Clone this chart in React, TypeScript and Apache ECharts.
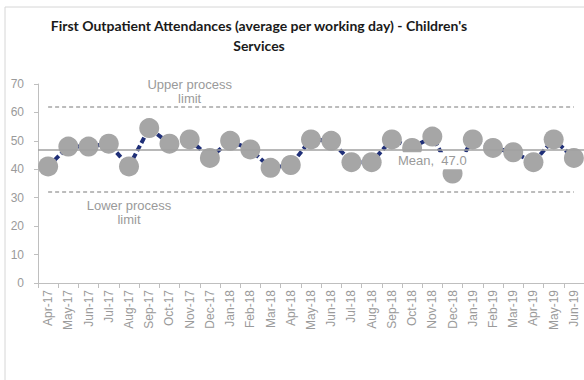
import React, { useEffect, useRef } from "react";
import * as echarts from "echarts";

const months = [
  "Apr-17", "May-17", "Jun-17", "Jul-17", "Aug-17", "Sep-17", "Oct-17", "Nov-17", "Dec-17",
  "Jan-18", "Feb-18", "Mar-18", "Apr-18", "May-18", "Jun-18", "Jul-18", "Aug-18", "Sep-18",
  "Oct-18", "Nov-18", "Dec-18", "Jan-19", "Feb-19", "Mar-19", "Apr-19", "May-19", "Jun-19",
];
const attendances = [
  41, 48, 48, 49, 41, 54.5, 49, 50.5, 44, 50, 47, 40.5,
  41.5, 50.5, 50, 42.5, 42.5, 50.5, 47.5, 51.5, 38.5, 50.5, 47.5, 46,
  42.5, 50.5, 44,
];
const MEAN = 47.0;
const UPPER_LIMIT = 62;
const LOWER_LIMIT = 32;
const yTicks = { min: 0, max: 70, interval: 10 };

const TITLE = "First Outpatient Attendances (average per working day) - Children's\nServices";

export default function App() {
  const ref = useRef<HTMLDivElement>(null);
  useEffect(() => {
    if (!ref.current) return;
    const chart = echarts.init(ref.current, null, { renderer: "svg" });
    const gray = "#9a9a9a";
    const last = months.length - 1;
    chart.setOption({
      animation: false,
      backgroundColor: "#ffffff",
      textStyle: { fontFamily: "Liberation Sans, Arial, sans-serif" },
      graphic: [
        {
          type: "rect",
          shape: { x: 5, y: 7, width: 620, height: 420 },
          style: { fill: "none", stroke: "#d6d6d6", lineWidth: 1 },
          silent: true,
          z: 0,
        },
        {
          type: "text",
          x: 259,
          y: 15,
          style: {
            text: TITLE,
            textAlign: "center",
            fontFamily: "Lato, sans-serif",
            fontWeight: "bold",
            fontSize: 14,
            lineHeight: 20,
            fill: "#1a1a1a",
          },
          z: 10,
        },
      ],
      grid: { left: 38, top: 84, width: 547, height: 199 },
      xAxis: {
        type: "category",
        data: months,
        boundaryGap: true,
        axisLine: { lineStyle: { color: "#bfbfbf" } },
        axisTick: { show: true, length: 5, interval: 0, lineStyle: { color: "#bfbfbf" } },
        axisLabel: { rotate: 90, interval: 0, color: gray, fontSize: 12, margin: 7 },
        splitLine: { show: false },
      },
      yAxis: {
        type: "value",
        min: yTicks.min,
        max: yTicks.max,
        interval: yTicks.interval,
        axisLine: { show: true, lineStyle: { color: "#bfbfbf" } },
        axisTick: { show: true, length: 4, lineStyle: { color: "#bfbfbf" } },
        axisLabel: { color: gray, fontSize: 12, margin: 14 },
        splitLine: { show: false },
      },
      series: [
        {
          name: "limits",
          type: "line",
          data: [],
          z: 1,
          silent: true,
          markLine: {
            silent: true,
            symbol: "none",
            label: { show: false },
            data: [
              [
                { coord: [0, UPPER_LIMIT], lineStyle: { type: [4, 3], color: "#a6a6a6", width: 1.5 } },
                { coord: [last, UPPER_LIMIT] },
              ],
              [
                { coord: [0, LOWER_LIMIT], lineStyle: { type: [4, 3], color: "#a6a6a6", width: 1.5 } },
                { coord: [last, LOWER_LIMIT] },
              ],
              { yAxis: MEAN, lineStyle: { type: "solid", color: "#a0a0a0", width: 1.5 } },
            ],
          },
          markPoint: {
            silent: true,
            symbol: "circle",
            symbolSize: 0,
            data: [
              {
                coord: [7.2, 67.5],
                label: {
                  show: true,
                  formatter: "Upper process\nlimit",
                  color: gray,
                  fontSize: 13,
                  lineHeight: 14,
                  align: "center",
                  verticalAlign: "middle",
                  position: "inside",
                },
              },
              {
                coord: [3.6, 24.8],
                label: {
                  show: true,
                  formatter: "Lower process\nlimit",
                  color: gray,
                  fontSize: 13,
                  lineHeight: 14,
                  align: "center",
                  verticalAlign: "middle",
                  position: "inside",
                },
              },
            ],
          },
        },
        {
          name: "Attendances",
          type: "line",
          data: attendances,
          z: 3,
          symbol: "circle",
          symbolSize: 20,
          itemStyle: { color: "#a6a6a6", borderWidth: 0 },
          lineStyle: { color: "#1f2f78", width: 4, type: [6, 3] },
          markPoint: {
            silent: true,
            symbol: "circle",
            symbolSize: 0,
            data: [
              {
                coord: [18.6, 43],
                label: {
                  show: true,
                  formatter: `Mean,  ${MEAN.toFixed(1)}`,
                  color: gray,
                  fontSize: 13,
                  backgroundColor: "#ffffff",
                  padding: [2, 3],
                  align: "center",
                  verticalAlign: "middle",
                  position: "inside",
                },
              },
            ],
          },
        },
      ],
    });
    return () => chart.dispose();
  }, []);
  return (
    <div
      ref={ref}
      style={{ position: "fixed", left: 0, top: 0, width: 584, height: 380 }}
    />
  );
}
